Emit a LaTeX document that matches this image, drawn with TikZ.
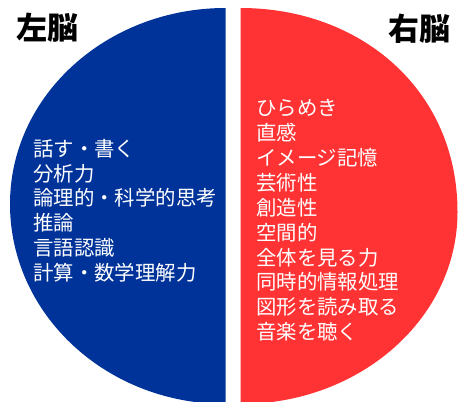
\documentclass[tikz,border=0pt]{standalone}
\usepackage{fontspec}
\setmainfont{Noto Sans CJK JP}
\definecolor{brainblue}{HTML}{003399}
\definecolor{brainred}{HTML}{FF3333}
\tikzset{
  item/.style={anchor=west,inner sep=0pt,text=white,font=\fontsize{20.4}{20.4}\selectfont,text height=16pt,text depth=4pt},
  brainlabel/.style={anchor=center,inner sep=0pt,text=black,font=\fontsize{31}{31}\selectfont\bfseries}
}
\begin{document}
\begin{tikzpicture}[x=1pt,y=-1pt]
\useasboundingbox (0,0) rectangle (462,401);
\fill[brainblue] (225.5,8) .. controls (106.5,8) and (10,95.7) .. (10,204) .. controls (10,314.5) and (106.5,404) .. (225.5,404) -- cycle;
\fill[brainred] (240.5,8) .. controls (360.4,8) and (457.5,89.6) .. (457.5,212) .. controls (457.5,318) and (360.4,404) .. (240.5,404) -- cycle;
\node[brainlabel] (L) at (47.5,27.5) {左脳};
\node[brainlabel] (R) at (419.5,28.5) {右脳};
\node[item] (l1) at (33,150) {話す・書く};
\node[item] (l2) at (33,175) {分析力};
\node[item] (l3) at (33,199.5) {論理的・科学的思考};
\node[item] (l4) at (33,224.5) {推論};
\node[item] (l5) at (33,249.5) {言語認識};
\node[item] (l6) at (33,274.5) {計算・数学理解力};
\node[item] (r1) at (256,109) {ひらめき};
\node[item] (r2) at (256,134) {直感};
\node[item] (r3) at (256,159) {イメージ記憶};
\node[item] (r4) at (256,184) {芸術性};
\node[item] (r5) at (256,209) {創造性};
\node[item] (r6) at (256,234) {空間的};
\node[item] (r7) at (256,259) {全体を見る力};
\node[item] (r8) at (256,283.5) {同時的情報処理};
\node[item] (r9) at (256,308.5) {図形を読み取る};
\node[item] (r10) at (256,333.5) {音楽を聴く};
\end{tikzpicture}
\end{document}
